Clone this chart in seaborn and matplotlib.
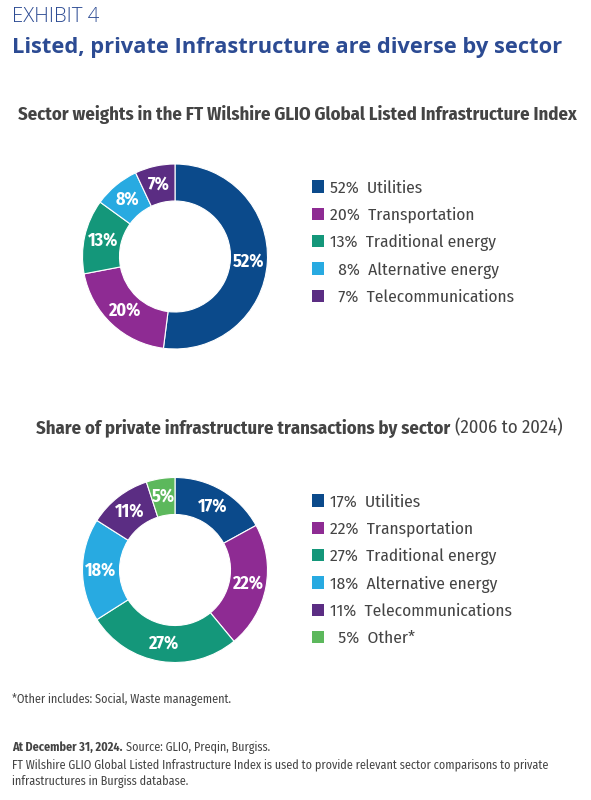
import matplotlib
matplotlib.use("Agg")
import numpy as np
import matplotlib.pyplot as plt
import seaborn as sns
from matplotlib.patches import Patch

# ---- data ----
sectors_listed = ["Utilities", "Transportation", "Traditional energy",
                  "Alternative energy", "Telecommunications"]
weights_listed = [52, 20, 13, 8, 7]

sectors_private = ["Utilities", "Transportation", "Traditional energy",
                   "Alternative energy", "Telecommunications", "Other*"]
weights_private = [17, 22, 27, 18, 11, 5]

colors = ["#0b4a8b", "#8e2b93", "#14977a", "#28aae1", "#5b2d83", "#5cb85c"]

sns.set_theme(style="white")
NARROW = ["Fira Sans Condensed", "DejaVu Sans"]
plt.rcParams["font.family"] = NARROW

W, H = 591, 800
fig = plt.figure(figsize=(W / 100, H / 100), dpi=100)
fig.patch.set_facecolor("white")

BLUE = "#2c4b93"
GREY = "#444444"


def fx(px):
    return px / W


def fy(py):
    return 1 - py / H


def fit(t, width_px):
    # shrink / grow a text so that it spans width_px
    fig.canvas.draw()
    w = t.get_window_extent().width
    t.set_fontsize(t.get_fontsize() * width_px / w)
    fig.canvas.draw()
    return t


e = fig.text(fx(12), fy(17), "EXHIBIT 4", fontsize=12, color=BLUE,
             family="Open Sans", fontweight="light", va="center")
fit(e, 87)
t = fig.text(fx(12), fy(48), "Listed, private Infrastructure are diverse by sector",
             fontsize=14.5, color=BLUE, family="Open Sans", fontweight="bold", va="center")
fit(t, 550)

s1 = fig.text(fx(18), fy(114), "Sector weights in the FT Wilshire GLIO Global Listed Infrastructure Index",
              fontsize=13, color=GREY, fontweight="bold", ha="left", va="center")
fit(s1, 559)

t1 = fig.text(fx(36), fy(428), "Share of private infrastructure transactions by sector",
              fontsize=s1.get_fontsize(), color=GREY, fontweight="bold", ha="left", va="center")
fig.canvas.draw()
bb = t1.get_window_extent()
fig.text(bb.x1 / W + fx(5), fy(428), "(2006 to 2024)",
         fontsize=s1.get_fontsize(), color=GREY, ha="left", va="center")


def donut(cx, cy, r, values, names, legend_y):
    ax = fig.add_axes([fx(cx - r), fy(cy + r), fx(2 * r), (2 * r) / H])
    cols = colors[:len(values)]
    wedges, _ = ax.pie(values, colors=cols, startangle=90, counterclock=False,
                       radius=1, wedgeprops=dict(width=0.4, edgecolor="white", linewidth=0.8))
    for w, v in zip(wedges, values):
        ang = np.deg2rad((w.theta1 + w.theta2) / 2)
        ax.text(0.8 * np.cos(ang), 0.8 * np.sin(ang), f"{v}%", color="white",
                fontsize=13, fontweight="bold", ha="center", va="center")
    ax.set_xlim(-1, 1)
    ax.set_ylim(-1, 1)
    ax.axis("off")
    labels = [(f"{v}%" if v >= 10 else f"  {v}%") + "  " + n for v, n in zip(values, names)]
    handles = [Patch(facecolor=c, edgecolor="none") for c in cols]
    leg = fig.legend(handles, labels, loc="upper left", bbox_to_anchor=(fx(305), fy(legend_y)),
                     frameon=False, handlelength=0.7, handleheight=0.7,
                     handletextpad=0.35, labelspacing=0.62, labelcolor=GREY, borderaxespad=0,
                     prop=dict(family=NARROW, size=12.5))
    return leg


donut(175, 256.5, 92.5, weights_listed, sectors_listed, 173)
donut(175, 570, 92.5, weights_private, sectors_private, 487)

l3 = fig.text(fx(12), fy(765), "FT Wilshire GLIO Global Listed Infrastructure Index is used to provide relevant sector comparisons to private",
              fontsize=10, color=GREY, va="center")
fit(l3, 536)
FS = l3.get_fontsize()
fig.text(fx(12), fy(700), "*Other includes: Social, Waste management.",
         fontsize=FS, color=GREY, va="center")
f1 = fig.text(fx(12), fy(747), "At December 31, 2024.", fontsize=FS, color=GREY,
              fontweight="bold", va="center")
fig.canvas.draw()
bb = f1.get_window_extent()
fig.text(bb.x1 / W + fx(3), fy(747), "Source: GLIO, Preqin, Burgiss.",
         fontsize=FS, color=GREY, va="center")
fig.text(fx(12), fy(782), "infrastructures in Burgiss database.",
         fontsize=FS, color=GREY, va="center")

fig.savefig("out.png", dpi=100, facecolor="white")
